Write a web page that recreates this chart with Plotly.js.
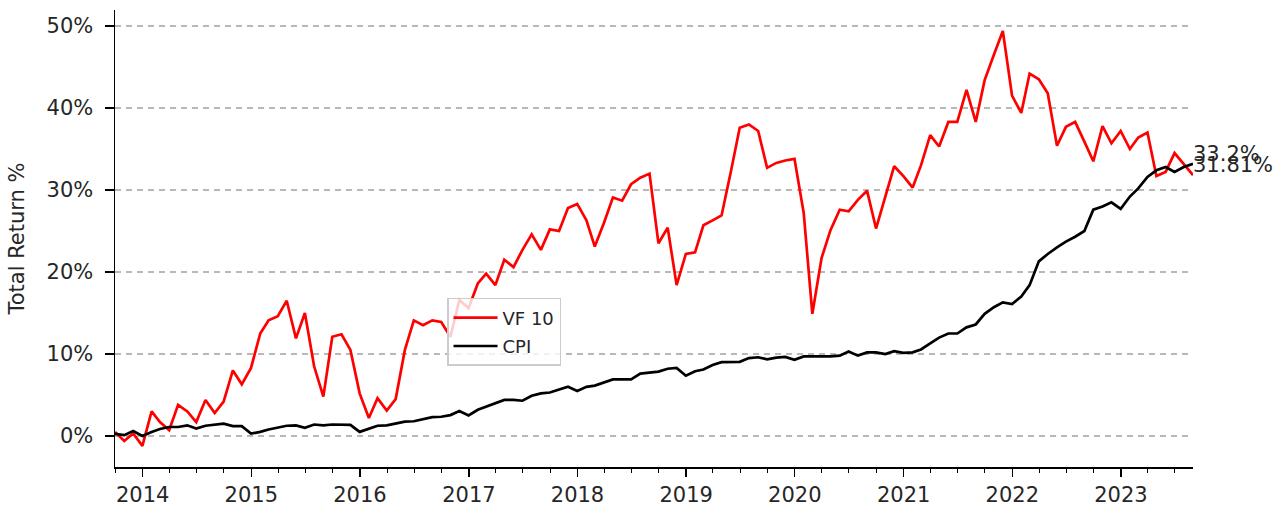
<!DOCTYPE html>
<html>
<head>
<meta charset="utf-8">
<script src="https://cdn.plot.ly/plotly-3.0.1.min.js"></script>
<style>html,body{margin:0;padding:0;background:#fff;}#chart{width:1286px;height:507px;}</style>
</head>
<body>
<div id="chart"></div>
<script>
// Monthly observations (month-end), Sep 2013 .. Aug 2023
const startYear = 2013, startMonth = 9, nMonths = 120;
const vf10 = [
  0.5, -0.6, 0.3, -1.2, 3.0, 1.7, 0.7, 3.8, 3.0, 1.7, 4.4, 2.8,
  4.2, 8.0, 6.3, 8.3, 12.5, 14.1, 14.6, 16.5, 11.9, 15.0, 8.5, 4.8,
  12.1, 12.4, 10.5, 5.2, 2.2, 4.6, 3.1, 4.5, 10.5, 14.1, 13.5, 14.1,
  13.9, 12.1, 16.6, 15.6, 18.6, 19.8, 18.4, 21.5, 20.6, 22.7, 24.6, 22.7,
  25.2, 25.0, 27.8, 28.3, 26.3, 23.1, 26.0, 29.1, 28.7, 30.7, 31.5, 32.0,
  23.5, 25.4, 18.4, 22.2, 22.4, 25.7, 26.3, 26.9, 32.2, 37.6, 38.0, 37.2,
  32.7, 33.3, 33.6, 33.8, 27.2, 14.9, 21.7, 25.1, 27.6, 27.4, 28.8, 29.9,
  25.3, 29.1, 32.9, 31.7, 30.3, 33.0, 36.7, 35.3, 38.3, 38.3, 42.2, 38.3,
  43.4, 46.5, 49.4, 41.5, 39.4, 44.2, 43.5, 41.8, 35.4, 37.7, 38.3, 35.9,
  33.5, 37.8, 35.7, 37.2, 35.0, 36.4, 37.0, 31.7, 32.2, 34.5, 33.2, 31.81
];
const cpi = [
  0.25, 0.1, 0.6, 0.0, 0.5, 0.85, 1.1, 1.1, 1.3, 0.9, 1.25, 1.4,
  1.5, 1.2, 1.2, 0.3, 0.5, 0.8, 1.05, 1.25, 1.3, 1.0, 1.4, 1.3,
  1.4, 1.4, 1.35, 0.5, 0.9, 1.25, 1.3, 1.5, 1.75, 1.8, 2.05, 2.3,
  2.35, 2.55, 3.05, 2.5, 3.2, 3.6, 4.0, 4.4, 4.4, 4.3, 4.9, 5.2,
  5.3, 5.7, 6.0, 5.5, 6.0, 6.15, 6.5, 6.9, 6.9, 6.9, 7.6, 7.75,
  7.85, 8.2, 8.3, 7.35, 7.9, 8.1, 8.65, 9.0, 9.05, 9.05, 9.5, 9.6,
  9.35, 9.55, 9.65, 9.3, 9.7, 9.7, 9.65, 9.7, 9.8, 10.3, 9.8, 10.2,
  10.2, 10.0, 10.35, 10.15, 10.2, 10.55, 11.3, 12.0, 12.5, 12.5, 13.25, 13.6,
  14.9, 15.7, 16.3, 16.1, 17.0, 18.4, 21.3, 22.2, 23.0, 23.7, 24.3, 25.0,
  27.6, 28.0, 28.5, 27.7, 29.2, 30.2, 31.6, 32.4, 32.8, 32.2, 32.8, 33.2
];
const seriesNames = ['VF 10', 'CPI'];
const endLabels = ['31.81%', '33.2%'];
const yTickVals = [0, 10, 20, 30, 40, 50];
const yTickText = ['0%', '10%', '20%', '30%', '40%', '50%'];

function monthEnd(y, m) {
  const d = new Date(Date.UTC(y, m, 0));
  return d.toISOString().slice(0, 10);
}
const dates = [];
for (let i = 0; i < nMonths; i++) {
  const mm = startMonth - 1 + i;
  const y = startYear + Math.floor(mm / 12);
  const m = (mm % 12) + 1;
  dates.push(monthEnd(y, m));
}

const font = "DejaVu Sans, sans-serif";
const traces = [
  {x: dates, y: vf10, name: seriesNames[0], type: 'scatter', mode: 'lines',
   line: {color: '#ff0000', width: 2.7}, legendgroup: 'a'},
  {x: dates, y: cpi, name: seriesNames[1], type: 'scatter', mode: 'lines',
   line: {color: '#000000', width: 2.7}, legendgroup: 'b'}
];

const last = dates[dates.length - 1];
const layout = {
  width: 1286, height: 507,
  margin: {l: 115, r: 93, t: 10, b: 40},
  paper_bgcolor: '#ffffff', plot_bgcolor: '#ffffff',
  font: {family: font, size: 21, color: '#262626'},
  showlegend: true,
  legend: {
    x: 0.308, y: 0.37, xanchor: 'left', yanchor: 'top',
    bgcolor: 'rgba(255,255,255,0.8)', bordercolor: '#cccccc', borderwidth: 1.5,
    font: {family: font, size: 18, color: '#262626'},
    traceorder: 'grouped', tracegroupgap: 2, itemwidth: 44
  },
  xaxis: {
    type: 'date', range: [dates[0], last],
    showgrid: false, zeroline: false,
    showline: true, linecolor: '#000', linewidth: 1.5,
    ticks: 'outside', ticklen: 8, tickwidth: 1.3, tickcolor: '#000',
    dtick: 'M12', tick0: '2014-01-01', tickformat: '%Y',
    tickfont: {family: font, size: 21, color: '#262626'},
    minor: {dtick: 'M3', tick0: '2014-01-01', ticks: 'outside', ticklen: 4, tickwidth: 1, tickcolor: '#000', showgrid: false}
  },
  yaxis: {
    range: [-3.78, 51.95],
    tickvals: yTickVals, ticktext: yTickText,
    showgrid: true, gridcolor: '#b8b8b8', gridwidth: 1.2, griddash: '6px,5px',
    zeroline: false,
    showline: true, linecolor: '#000', linewidth: 1.5,
    ticks: 'outside', ticklen: 9, tickwidth: 1.3, tickcolor: '#000',
    ticklabelstandoff: 7,
    tickfont: {family: font, size: 21, color: '#262626'},
    title: {text: 'Total Return %', font: {family: font, size: 21, color: '#262626'}, standoff: 16}
  },
  annotations: [
    {x: last, y: vf10[vf10.length - 1], xref: 'x', yref: 'y', text: endLabels[0],
     showarrow: false, xanchor: 'left', yanchor: 'bottom', yshift: -4, xshift: -2,
     font: {family: font, size: 21, color: '#262626'}},
    {x: last, y: cpi[cpi.length - 1], xref: 'x', yref: 'y', text: endLabels[1],
     showarrow: false, xanchor: 'left', yanchor: 'bottom', yshift: -4, xshift: -2,
     font: {family: font, size: 21, color: '#262626'}}
  ]
};

Plotly.newPlot('chart', traces, layout, {displayModeBar: false, staticPlot: true});
</script>
</body>
</html>
